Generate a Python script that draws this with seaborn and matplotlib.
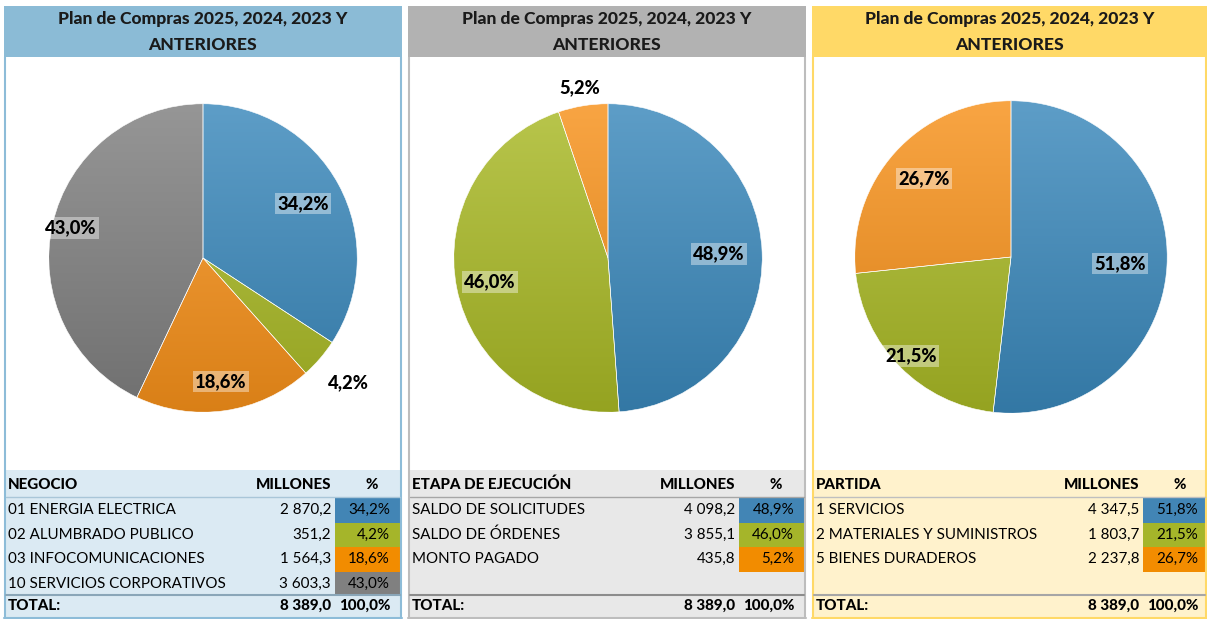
import numpy as np
import matplotlib
matplotlib.use("Agg")
import matplotlib.pyplot as plt
import seaborn as sns
from matplotlib.patches import Rectangle
from matplotlib.colors import to_rgb

sns.set_theme(style="white")
plt.rcParams['font.family'] = ['Lato', 'DejaVu Sans']

# ---------------- data ----------------
title = "Plan de Compras 2025, 2024, 2023 Y\nANTERIORES"

neg_labels = ["01 ENERGIA ELECTRICA", "02 ALUMBRADO PUBLICO",
              "03 INFOCOMUNICACIONES", "10 SERVICIOS CORPORATIVOS"]
neg_values = [2870.2, 351.2, 1564.3, 3603.3]
neg_pcts = [34.2, 4.2, 18.6, 43.0]

eta_labels = ["SALDO DE SOLICITUDES", "SALDO DE ÓRDENES", "MONTO PAGADO"]
eta_values = [4098.2, 3855.1, 435.8]
eta_pcts = [48.9, 46.0, 5.2]

par_labels = ["1 SERVICIOS", "2 MATERIALES Y SUMINISTROS", "5 BIENES DURADEROS"]
par_values = [4347.5, 1803.7, 2237.8]
par_pcts = [51.8, 21.5, 26.7]

header_names = ["NEGOCIO", "ETAPA DE EJECUCIÓN", "PARTIDA"]
col_millones = "MILLONES"
col_pct = "%"
total_label = "TOTAL:"
total_value = 8389.0
total_pct = 100.0

# ---------------- style ----------------
W, H = 1207, 619
BLUE, GREEN, ORANGE, GREY = "#3a88bb", "#a9b925", "#f7911a", "#7f7f7f"
CELL = {BLUE: "#4285b5", GREEN: "#a5b52a", ORANGE: "#f28c00", GREY: "#808080"}
BOLD = 900


def fmt_num(v):
    return f"{v:,.1f}".replace(",", " ").replace(".", ",")


def fmt_pct(p):
    return f"{p:.1f}%".replace(".", ",")


def shade(c, f):
    r = np.array(to_rgb(c))
    if f > 0:
        return r + (1 - r) * f
    return r * (1 + f)


panels = [
    dict(x0=4, x1=402, head="#8bbbd6", border="#8dbcd8", tbl="#dbeaf3",
         line1="#a9c6d8", line2="#8aa6b8", hdr=header_names[0],
         labels=neg_labels, values=neg_values, pcts=neg_pcts,
         colors=[BLUE, GREEN, ORANGE, GREY], cx=203, cy=258, r=155,
         dists=[0.74, 1.24, 0.81, 0.88], boxed=[True, False, True, True]),
    dict(x0=408, x1=806, head="#b2b2b2", border="#bdbdbd", tbl="#e8e8e8",
         line1="#a6a6a6", line2="#8c8c8c", hdr=header_names[1],
         labels=eta_labels, values=eta_values, pcts=eta_pcts,
         colors=[BLUE, GREEN, ORANGE], cx=608, cy=258, r=155,
         dists=[0.72, 0.78, 1.12], boxed=[True, True, False]),
    dict(x0=812, x1=1207, head="#ffd967", border="#ffd967", tbl="#fff2cc",
         line1="#bfbfbf", line2="#a6a6a6", hdr=header_names[2],
         labels=par_labels, values=par_values, pcts=par_pcts,
         colors=[BLUE, GREEN, ORANGE], cx=1011, cy=257, r=157,
         dists=[0.70, 0.90, 0.75], boxed=[True, True, True]),
]

fig = plt.figure(figsize=(W / 100, H / 100), dpi=100)
fig.patch.set_facecolor("white")
bg = fig.add_axes([0, 0, 1, 1])
bg.set_xlim(0, W)
bg.set_ylim(H, 0)
bg.axis("off")

FS = 10.9
ROW0 = 498
RH = 24.5

for p in panels:
    x0, x1 = p["x0"], p["x1"]
    w = x1 - x0
    # header
    bg.add_patch(Rectangle((x0, 6), w, 51, facecolor=p["head"], edgecolor="none", zorder=1))
    bg.text((x0 + x1) / 2, 19, title.split("\n")[0], ha="center", va="center", fontsize=12.6,
            fontweight=BOLD, color="#1a1a1a", zorder=5)
    bg.text((x0 + x1) / 2, 45, title.split("\n")[1], ha="center", va="center", fontsize=12.6,
            fontweight=BOLD, color="#1a1a1a", zorder=5)
    # table background
    bg.add_patch(Rectangle((x0, 470), w, 147, facecolor=p["tbl"], edgecolor="none", zorder=1))
    # borders
    for xx in (x0 + 1, x1 - 1):
        bg.plot([xx, xx], [57, 618], color=p["border"], lw=1.5, zorder=3,
                solid_capstyle="butt")
    bg.plot([x0, x1], [617.5, 617.5], color=p["border"], lw=1.5, zorder=3)
    bg.plot([x0 + 2, x1 - 2], [497, 497], color=p["line1"], lw=1.0, zorder=3)
    bg.plot([x0 + 2, x1 - 2], [595, 595], color=p["line2"], lw=1.5, zorder=3)

    xl = x0 + 4
    xv = x0 + 327
    xp = x0 + 386
    # header row
    bg.text(xl, 485, p["hdr"], ha="left", va="center", fontsize=FS, fontweight=BOLD, color="black", zorder=5)
    bg.text(xv, 485, col_millones, ha="right", va="center", fontsize=FS, fontweight=BOLD, color="black", zorder=5)
    bg.text(x0 + 368, 485, col_pct, ha="center", va="center", fontsize=FS, fontweight=BOLD, color="black", zorder=5)
    # rows
    for i, (lab, val, pct, col) in enumerate(zip(p["labels"], p["values"], p["pcts"], p["colors"])):
        yc = ROW0 + RH * i + RH / 2
        bg.add_patch(Rectangle((x0 + 331, ROW0 + RH * i), w - 333, RH,
                               facecolor=CELL[col], edgecolor="none", zorder=2))
        bg.text(xl, yc, lab, ha="left", va="center", fontsize=FS, color="black", zorder=5)
        bg.text(xv, yc, fmt_num(val), ha="right", va="center", fontsize=FS, color="black", zorder=5)
        bg.text(xp, yc, fmt_pct(pct), ha="right", va="center", fontsize=FS, color="black", zorder=5)
    # total
    bg.text(xl, 606, total_label, ha="left", va="center", fontsize=FS, fontweight=BOLD, color="black", zorder=5)
    bg.text(xv, 606, fmt_num(total_value), ha="right", va="center", fontsize=FS, fontweight=BOLD, color="black", zorder=5)
    bg.text(xp, 606, fmt_pct(total_pct), ha="right", va="center", fontsize=FS, fontweight=BOLD, color="black", zorder=5)

    # pie
    cx, cy, r = p["cx"], p["cy"], p["r"]
    ax = fig.add_axes([(cx - r) / W, 1 - (cy + r) / H, 2 * r / W, 2 * r / H])
    wedges, _ = ax.pie(p["values"], colors=p["colors"], startangle=90, counterclock=False,
                       radius=1, wedgeprops=dict(edgecolor="white", linewidth=0.4))
    for wd, col in zip(wedges, p["colors"]):
        top = shade(col, 0.18)
        bot = shade(col, -0.12)
        t = np.linspace(0, 1, 256)[:, None, None]
        grad = top[None, None, :] * (1 - t) + bot[None, None, :] * t
        im = ax.imshow(grad, extent=[-1, 1, -1, 1], origin="upper", aspect="auto", zorder=0.5)
        im.set_clip_path(wd)
        wd.set_facecolor("none")
        wd.set_zorder(1)
    for wd, pct, d, boxed in zip(wedges, p["pcts"], p["dists"], p["boxed"]):
        th = np.deg2rad((wd.theta1 + wd.theta2) / 2)
        kw = {}
        if boxed:
            kw["bbox"] = dict(boxstyle="square,pad=0.12", facecolor="white", alpha=0.4, edgecolor="none")
        ax.text(d * np.cos(th), d * np.sin(th), fmt_pct(pct), ha="center", va="center",
                fontsize=13.2, fontweight=BOLD, color="black", zorder=5, **kw)
    ax.set_xlim(-1.005, 1.005)
    ax.set_ylim(-1.005, 1.005)
    ax.axis("off")

fig.savefig("out.png", dpi=100, facecolor="white")
